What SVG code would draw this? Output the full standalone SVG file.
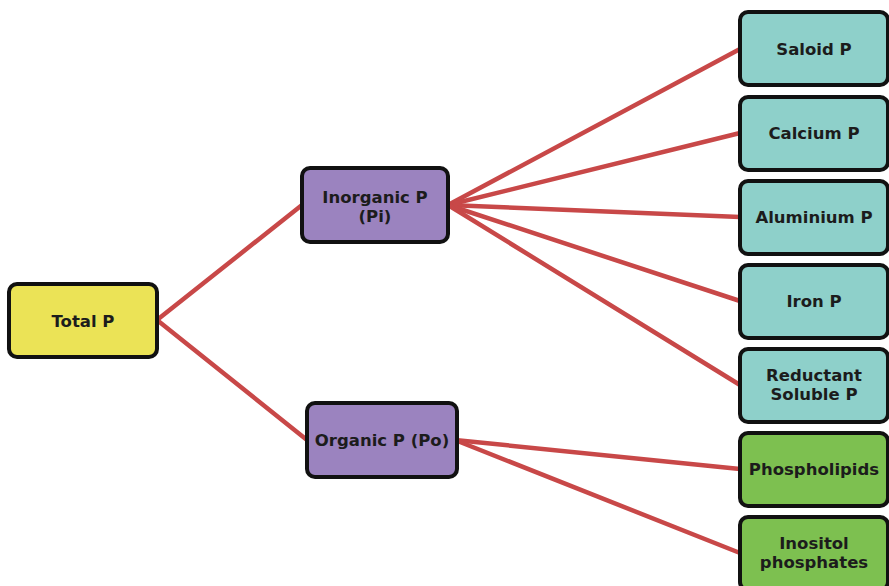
<svg xmlns="http://www.w3.org/2000/svg" width="889" height="586" viewBox="0 0 889 586">
  <style>
    .box { stroke: #111; stroke-width: 4; }
    .total { fill: #ebe356; }
    .mid { fill: #9b83bf; }
    .pi { fill: #8ed0ca; }
    .po { fill: #7dc050; }
    .lbl { font-family: "DejaVu Sans", Verdana, sans-serif; font-weight: bold; font-size: 16.5px; fill: #1c1c1c; text-anchor: middle; }
    .wire { stroke: #c84848; stroke-width: 4.5; fill: none; stroke-linecap: round; }
  </style>
  <rect width="889" height="586" fill="#ffffff"/>

  <!-- connectors -->
  <g id="connectors">
    <line class="wire" x1="157" y1="320" x2="302" y2="205"/>
    <line class="wire" x1="157" y1="320" x2="307" y2="440"/>
    <line class="wire" x1="448" y1="205" x2="740" y2="49"/>
    <line class="wire" x1="448" y1="205" x2="740" y2="133"/>
    <line class="wire" x1="448" y1="205" x2="740" y2="217"/>
    <line class="wire" x1="448" y1="205" x2="740" y2="301"/>
    <line class="wire" x1="448" y1="205" x2="740" y2="385"/>
    <line class="wire" x1="455" y1="440" x2="740" y2="469"/>
    <line class="wire" x1="455" y1="440" x2="740" y2="553"/>
  </g>

  <g id="total-p">
    <rect class="box total" x="9" y="284" width="148" height="73" rx="8"/>
    <text class="lbl" x="83" y="327">Total P</text>
  </g>

  <g id="inorganic-p">
    <rect class="box mid" x="302" y="168" width="146" height="74" rx="8"/>
    <text class="lbl" x="375" y="203">Inorganic P</text>
    <text class="lbl" x="375" y="222">(Pi)</text>
  </g>

  <g id="organic-p">
    <rect class="box mid" x="307" y="403" width="150" height="74" rx="8"/>
    <text class="lbl" x="382" y="446">Organic P (Po)</text>
  </g>

  <g id="saloid-p">
    <rect class="box pi" x="740" y="12" width="148" height="73" rx="8"/>
    <text class="lbl" x="814" y="55">Saloid P</text>
  </g>

  <g id="calcium-p">
    <rect class="box pi" x="740" y="97" width="148" height="73" rx="8"/>
    <text class="lbl" x="814" y="139">Calcium P</text>
  </g>

  <g id="aluminium-p">
    <rect class="box pi" x="740" y="181" width="148" height="73" rx="8"/>
    <text class="lbl" x="814" y="223">Aluminium P</text>
  </g>

  <g id="iron-p">
    <rect class="box pi" x="740" y="265" width="148" height="73" rx="8"/>
    <text class="lbl" x="814" y="307">Iron P</text>
  </g>

  <g id="reductant-soluble-p">
    <rect class="box pi" x="740" y="349" width="148" height="73" rx="8"/>
    <text class="lbl" x="814" y="381">Reductant</text>
    <text class="lbl" x="814" y="400">Soluble P</text>
  </g>

  <g id="phospholipids">
    <rect class="box po" x="740" y="433" width="148" height="73" rx="8"/>
    <text class="lbl" x="814" y="475">Phospholipids</text>
  </g>

  <g id="inositol-phosphates">
    <rect class="box po" x="740" y="517" width="148" height="73" rx="8"/>
    <text class="lbl" x="814" y="549">Inositol</text>
    <text class="lbl" x="814" y="568">phosphates</text>
  </g>
</svg>
